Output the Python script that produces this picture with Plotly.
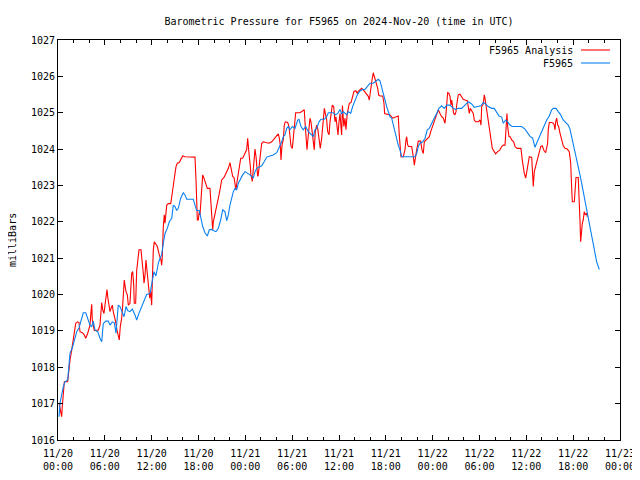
import pandas as pd
import plotly.graph_objects as go

start = pd.Timestamp("2024-11-20 00:00")

# Observed F5965 (hours after start, millibars)
obs_hours = [0.13,0.26,0.68,0.90,1.24,1.41,1.54,1.83,2.18,2.40,2.69,2.95,3.24,3.55,3.88,4.10,4.32,4.52,4.74,5.09,
5.38,5.60,5.80,6.11,6.44,6.66,6.96,7.21,7.43,7.72,7.94,8.16,8.46,8.71,8.93,9.22,9.52,9.86,10.08,10.38,
10.72,11.06,11.36,11.79,12.00,12.30,12.55,12.85,13.07,13.28,13.49,13.71,14.00,14.26,14.57,14.77,14.99,15.21,15.41,15.72,
16.05,16.27,16.49,16.91,17.33,17.55,17.77,18.10,18.28,18.54,18.83,19.13,19.38,19.69,19.90,20.24,20.54,20.84,21.10,21.39,
21.61,21.82,22.03,22.25,22.46,22.68,22.89,23.10,23.41,23.66,23.96,24.60,25.02,25.24,25.46,25.75,26.10,26.43,26.74,27.16,
27.58,28.02,28.31,28.66,28.86,29.08,29.30,29.50,29.72,30.02,30.36,30.71,30.87,31.13,31.42,31.73,32.07,32.41,32.71,32.92,
33.14,33.44,33.69,34.12,34.42,34.63,34.97,35.27,35.58,35.83,36.13,36.34,36.55,36.98,37.19,37.50,37.75,38.05,38.34,38.69,
39.03,39.33,39.62,39.97,40.39,40.74,41.03,41.25,41.47,41.67,41.89,42.11,42.31,42.53,42.75,42.95,43.17,43.39,43.59,43.81,
44.03,44.45,45.09,45.73,45.95,46.16,46.38,46.72,47.02,47.31,47.57,47.75,48.08,48.51,48.81,49.15,49.49,49.80,50.22,50.64,
50.95,51.28,51.72,52.14,52.56,53.00,53.33,53.77,54.19,54.48,54.79,55.12,55.56,55.89,56.20,56.50,56.84,57.05,57.35,57.61,
57.90,58.20,58.76,59.40,59.83,60.17,60.47,60.81,60.98,61.11,61.32,61.66,61.97,62.26,62.61,62.94,63.25,63.45,63.80,64.09,
64.40,64.73,65.08,65.37,65.59,65.81,66.01,66.23,66.45,66.65,66.87,67.09,67.29,67.51,67.73,67.93,68.15,68.37,68.58,68.79,
69.01,69.35]
obs_mb = [1016.64,1017.02,1017.47,1017.6,1017.65,1018.1,1018.39,1018.53,1018.8,1018.98,1019.08,1019.3,1019.5,1019.5,1019.3,1019.16,1019.12,1019.27,1019.02,1018.98,
1018.8,1018.7,1019.2,1019.27,1019.27,1019.16,1019.25,1019.23,1018.94,1019.71,1019.67,1019.53,1019.39,1019.67,1019.56,1019.53,1019.6,1019.44,1019.3,1019.49,
1019.67,1019.83,1020.0,1020.03,1020.31,1020.63,1020.51,1020.86,1021.0,1021.09,1021.41,1021.68,1021.82,1022.0,1022.1,1022.46,1022.42,1022.31,1022.37,1022.65,
1022.8,1022.74,1022.62,1022.62,1022.62,1022.46,1022.31,1022.31,1022.12,1021.87,1021.7,1021.61,1021.78,1021.79,1021.76,1021.73,1021.82,1022.05,1022.33,1022.28,
1022.03,1022.19,1022.46,1022.65,1022.83,1022.92,1022.88,1023.06,1023.2,1023.29,1023.38,1023.29,1023.2,1023.38,1023.47,1023.5,1023.54,1023.66,1023.78,1023.81,
1023.84,1023.9,1024.02,1024.2,1024.34,1024.39,1024.57,1024.62,1024.53,1024.62,1024.57,1024.8,1024.82,1024.62,1024.53,1024.62,1024.48,1024.39,1024.34,1024.53,
1024.57,1024.75,1024.82,1024.82,1024.89,1025.0,1025.0,1025.0,1024.94,1024.98,1025.09,1024.97,1025.03,1024.94,1025.03,1024.98,1025.17,1025.35,1025.49,1025.6,
1025.64,1025.64,1025.72,1025.81,1025.81,1025.86,1025.92,1025.88,1025.72,1025.53,1025.35,1025.17,1025.03,1024.89,1024.85,1024.66,1024.48,1024.3,1024.11,1023.98,
1023.79,1023.79,1023.79,1023.79,1023.88,1024.07,1024.16,1024.2,1024.3,1024.53,1024.57,1024.66,1024.8,1024.98,1025.12,1025.19,1025.12,1025.21,1025.21,1025.12,
1025.09,1025.12,1025.12,1025.21,1025.3,1025.24,1025.15,1025.17,1025.19,1025.28,1025.24,1025.17,1025.12,1025.12,1025.0,1024.91,1024.88,1024.71,1024.8,1024.75,
1024.66,1024.62,1024.62,1024.62,1024.55,1024.45,1024.35,1024.3,1024.16,1024.05,1024.16,1024.34,1024.48,1024.66,1024.8,1024.91,1025.08,1025.12,1025.12,1025.03,
1024.94,1024.8,1024.71,1024.66,1024.55,1024.34,1024.16,1023.98,1023.75,1023.52,1023.29,1023.06,1022.83,1022.55,1022.33,1022.1,1021.87,1021.59,1021.32,1021.09,
1020.9,1020.69]

# F5965 Analysis (hours after start, millibars)
ana_hours = [0.13,0.47,0.55,0.68,0.81,1.24,1.41,1.54,1.76,1.96,2.09,2.27,2.52,2.69,2.82,3.11,3.37,3.55,3.80,3.97,
4.10,4.23,4.32,4.39,4.52,4.65,4.83,5.16,5.38,5.51,5.60,5.73,5.89,6.02,6.15,6.28,6.37,6.53,6.66,6.79,
6.96,7.08,7.21,7.39,7.56,7.72,7.85,7.98,8.16,8.29,8.42,8.49,8.58,8.71,8.88,9.01,9.22,9.35,9.44,9.57,
9.70,9.77,9.95,10.08,10.21,10.38,10.63,10.80,10.93,11.02,11.15,11.27,11.44,11.57,11.75,11.88,12.00,12.13,12.21,12.34,
12.55,12.72,12.98,13.19,13.28,13.36,13.49,13.62,13.71,13.80,13.93,14.13,14.44,14.57,14.69,14.86,14.99,15.12,15.28,15.54,
15.76,15.97,16.27,16.91,17.55,17.68,17.77,17.85,17.97,18.10,18.19,18.41,18.54,18.70,18.96,19.13,19.47,19.60,19.69,19.82,
19.90,20.11,20.33,20.54,20.75,20.97,21.27,21.52,21.82,22.03,22.16,22.38,22.55,22.68,22.80,22.97,23.23,23.41,23.66,23.87,
24.17,24.30,24.38,24.51,24.64,24.72,24.89,25.02,25.15,25.24,25.37,25.45,25.58,25.66,25.79,25.92,26.10,26.30,26.61,27.03,
27.38,27.71,28.02,28.22,28.35,28.48,28.57,28.70,28.86,28.99,29.12,29.43,29.59,29.72,29.85,30.02,30.14,30.27,30.45,31.00,
31.55,31.64,31.77,31.90,32.03,32.16,32.28,32.41,32.58,32.71,32.83,32.96,33.14,33.27,33.44,33.60,33.78,33.91,34.04,34.12,
34.29,34.42,34.55,34.72,34.85,34.97,35.14,35.32,35.49,35.61,35.74,35.87,36.00,36.13,36.25,36.34,36.44,36.62,36.77,36.89,
37.06,37.19,37.32,37.54,37.70,37.92,38.18,38.34,38.47,38.69,38.91,39.11,39.46,39.75,39.88,40.06,40.23,40.39,40.52,40.65,
40.83,40.96,41.08,41.25,41.60,41.76,41.85,42.11,42.53,42.88,43.17,43.59,43.72,43.85,43.94,44.24,44.45,44.58,44.67,44.80,
44.93,45.31,45.44,45.52,45.65,45.77,45.95,46.16,46.46,46.63,46.80,46.93,47.14,47.31,47.57,47.75,48.00,48.21,48.51,48.72,
48.94,49.15,49.36,49.49,49.58,49.71,49.80,49.92,50.09,50.22,50.35,50.44,50.56,50.69,50.86,50.99,51.11,51.28,51.50,51.72,
51.92,52.14,52.43,52.56,52.69,52.82,53.00,53.20,53.33,53.51,53.84,54.06,54.19,54.28,54.48,54.61,54.70,54.83,55.05,55.21,
55.34,55.47,55.64,55.89,56.07,56.33,56.62,56.84,57.05,57.27,57.39,57.52,57.61,57.78,57.94,58.12,58.38,58.55,58.80,59.31,
59.48,59.61,59.74,59.92,60.04,60.25,60.38,60.69,60.82,60.89,61.02,61.24,61.40,61.66,61.84,62.04,62.26,62.48,62.61,62.73,
62.81,62.94,63.25,63.45,63.58,63.67,63.76,63.89,64.02,64.14,64.31,64.44,64.57,64.73,64.95,65.24,65.50,65.68,65.81,65.89,
66.15,66.23,66.36,66.65,66.78,66.87,66.96,67.04,67.17,67.29,67.42,67.55,67.73,67.80]
ana_mb = [1017.02,1016.64,1016.92,1017.28,1017.6,1017.6,1018.02,1018.2,1018.48,1018.75,1019.02,1019.21,1019.25,1019.23,1018.98,1018.95,1018.89,1018.8,1018.93,1019.07,
1019.16,1019.53,1019.73,1019.3,1019.12,1019.01,1019.02,1019.02,1019.16,1019.53,1019.78,1019.58,1019.48,1019.71,1019.9,1020.14,1019.94,1019.62,1019.53,1019.62,
1019.71,1019.53,1019.44,1019.25,1019.02,1018.89,1018.75,1019.12,1019.35,1019.71,1020.12,1020.4,1020.26,1020.08,1019.99,1019.71,1019.76,1020.31,1020.58,1020.63,
1020.26,1019.76,1019.76,1020.66,1020.9,1021.23,1021.23,1020.95,1020.58,1020.31,1020.54,1020.95,1020.58,1020.31,1019.9,1020.08,1019.71,1020.68,1021.23,1021.45,
1021.36,1021.32,1021.09,1020.95,1020.81,1021.04,1021.87,1022.19,1021.96,1022.14,1022.46,1022.5,1022.5,1022.69,1022.92,1023.2,1023.33,1023.52,1023.61,1023.63,
1023.72,1023.81,1023.79,1023.79,1023.78,1023.15,1022.37,1022.05,1022.05,1022.28,1022.19,1022.88,1023.29,1023.2,1023.06,1022.92,1022.92,1022.42,1022.0,1021.78,
1022.0,1022.19,1022.42,1022.65,1022.88,1023.15,1023.22,1023.33,1023.47,1023.63,1023.52,1023.25,1023.22,1023.06,1022.88,1023.15,1023.56,1023.75,1023.75,1023.84,
1023.98,1024.3,1023.98,1023.79,1023.52,1023.29,1023.11,1023.52,1023.79,1024.0,1023.79,1023.43,1023.25,1023.29,1023.7,1023.84,1024.16,1024.2,1024.18,1024.16,
1024.2,1024.3,1024.36,1024.42,1024.3,1024.11,1023.7,1024.11,1024.25,1024.66,1024.75,1024.73,1024.62,1024.2,1024.08,1024.02,1024.34,1024.71,1025.0,1025.0,
1025.08,1024.75,1024.25,1023.98,1024.3,1024.62,1024.85,1024.75,1024.48,1024.25,1023.98,1024.48,1024.66,1024.57,1024.2,1024.02,1024.3,1024.62,1024.85,1025.12,
1024.94,1024.8,1024.48,1024.39,1024.75,1024.98,1025.21,1025.17,1024.75,1024.89,1024.57,1024.39,1024.75,1024.98,1024.62,1024.39,1025.2,1024.62,1024.85,1024.53,
1024.98,1025.12,1025.26,1025.28,1025.45,1025.59,1025.6,1025.53,1025.59,1025.63,1025.67,1025.63,1025.53,1025.45,1025.35,1025.72,1025.9,1026.1,1026.01,1025.9,
1025.81,1025.67,1025.49,1025.46,1025.46,1025.26,1024.98,1024.97,1024.94,1024.85,1024.88,1024.91,1024.39,1024.02,1023.79,1023.79,1023.98,1024.25,1024.34,1024.11,
1024.07,1024.07,1023.79,1023.79,1023.56,1023.79,1023.98,1024.22,1024.22,1023.98,1023.88,1024.2,1024.25,1024.3,1024.34,1024.48,1024.62,1024.75,1024.94,1025.08,
1024.98,1024.89,1024.85,1024.75,1024.71,1024.98,1025.35,1025.55,1025.53,1025.45,1025.21,1025.35,1025.17,1024.98,1024.94,1025.03,1025.26,1025.49,1025.51,1025.45,
1025.37,1025.35,1025.33,1025.17,1024.98,1025.12,1025.03,1024.98,1024.8,1024.75,1024.75,1024.8,1024.66,1025.17,1025.24,1025.49,1025.4,1025.21,1024.94,1024.62,
1024.44,1024.2,1024.02,1023.93,1023.87,1023.93,1023.98,1024.07,1024.11,1024.11,1024.53,1024.98,1024.62,1024.34,1024.34,1024.25,1024.2,1024.07,1024.02,1024.02,
1023.7,1023.47,1023.33,1023.2,1023.38,1023.61,1023.79,1023.77,1023.2,1022.97,1023.38,1023.56,1023.66,1023.93,1024.07,1024.09,1023.96,1023.9,1024.02,1024.16,
1024.53,1024.73,1024.73,1024.71,1024.66,1024.53,1024.75,1024.85,1024.66,1024.62,1024.44,1024.3,1024.2,1024.09,1024.02,1024.0,1023.93,1023.63,1022.92,1022.55,
1022.55,1022.78,1023.22,1023.22,1022.69,1022.05,1021.45,1021.78,1021.96,1022.05,1022.28,1022.19,1022.24,1022.14]

tick_hours = list(range(0, 73, 6))
tick_labels = ["11/20<br>00:00","11/20<br>06:00","11/20<br>12:00","11/20<br>18:00",
               "11/21<br>00:00","11/21<br>06:00","11/21<br>12:00","11/21<br>18:00",
               "11/22<br>00:00","11/22<br>06:00","11/22<br>12:00","11/22<br>18:00",
               "11/23<br>00:00"]
y_ticks = list(range(1016, 1028))

RED = "#ff0000"
BLUE = "#0a80f0"
FONT = "DejaVu Sans Mono"

def to_time(hours):
    return [start + pd.Timedelta(hours=h) for h in hours]

fig = go.Figure()
fig.add_trace(go.Scatter(x=to_time(ana_hours), y=ana_mb, mode="lines",
                         name="F5965 Analysis", line=dict(color=RED, width=1.1)))
fig.add_trace(go.Scatter(x=to_time(obs_hours), y=obs_mb, mode="lines",
                         name="F5965", line=dict(color=BLUE, width=1.1)))

# the page body adds an 8px offset, margins compensate for it
W, H = 640, 480
fig.update_layout(
    width=W, height=H,
    margin=dict(l=50, r=28, t=32, b=48, autoexpand=False),
    paper_bgcolor="white", plot_bgcolor="white",
    showlegend=False,
    font=dict(family=FONT, size=10, color="black"),
    title=dict(text="Barometric Pressure for F5965 on 2024-Nov-20 (time in UTC)",
               x=(331 - 0) / W, xanchor="center", y=1 - 13 / H, yanchor="middle",
               automargin=False,
               font=dict(family=FONT, size=10, color="black")),
)
fig.update_xaxes(
    range=[start, start + pd.Timedelta(hours=72)],
    tickvals=to_time(tick_hours), ticktext=tick_labels,
    showgrid=False, zeroline=False, automargin=False,
    showline=True, linecolor="black", linewidth=1, mirror="allticks",
    ticks="inside", ticklen=5, tickcolor="black", ticklabelstandoff=4,
    minor=dict(dtick=2 * 3600 * 1000, tick0=start, ticks="inside", ticklen=3, tickcolor="black"),
    tickfont=dict(family=FONT, size=10),
)
fig.update_yaxes(
    range=[1016, 1027], tickvals=y_ticks,
    showgrid=False, zeroline=False, automargin=False,
    showline=True, linecolor="black", linewidth=1, mirror="allticks",
    ticks="inside", ticklen=5, tickcolor="black",
    tickfont=dict(family=FONT, size=10),
)

# y-axis title placed like gnuplot's
fig.add_annotation(text="milliBars", xref="paper", yref="paper",
                   x=-46 / 562, y=0.5, xanchor="center", yanchor="middle",
                   textangle=-90, showarrow=False,
                   font=dict(family=FONT, size=10, color="black"))

# gnuplot-style legend: text then line sample, top-right inside the plot
legend_items = [("F5965 Analysis", RED), ("F5965", BLUE)]
for i, (label, col) in enumerate(legend_items):
    ypx = 50 + 13 * i
    yp = 1 - (ypx - 40) / 400
    fig.add_annotation(text=label, xref="paper", yref="paper",
                       x=(575 - 58) / 562, y=yp, xanchor="right", yanchor="middle",
                       showarrow=False, font=dict(family=FONT, size=10, color="black"))
    fig.add_shape(type="line", xref="paper", yref="paper",
                  x0=(581 - 58) / 562, x1=(610 - 58) / 562, y0=yp, y1=yp,
                  line=dict(color=col, width=1.1))

fig.write_html("out.html")
